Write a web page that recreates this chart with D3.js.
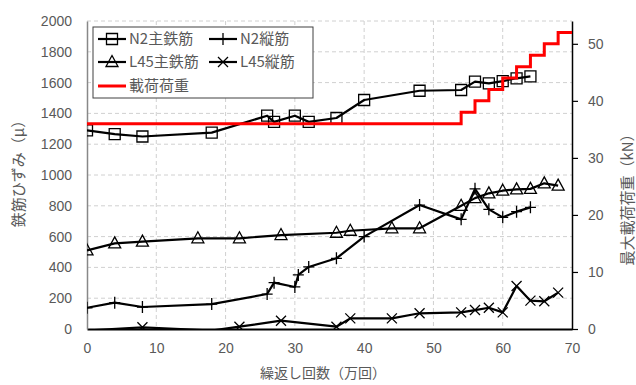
<!DOCTYPE html>
<html>
<head>
<meta charset="utf-8">
<script src="https://cdn.jsdelivr.net/npm/d3@7"></script>
<style>
  html, body { margin: 0; padding: 0; background: #fff; }
  svg { display: block; font-family: "Noto Sans CJK JP", "Noto Sans", sans-serif; }
</style>
</head>
<body>
<svg id="chart" width="636" height="385"></svg>
<script>
// 繰返し回数 (万回) と鉄筋ひずみ (μ)
const n2MainX = [0, 4, 8, 18, 26, 27, 30, 32, 36, 40, 48, 54, 56, 58, 60, 62, 64];
const n2MainY = [1290, 1265, 1250, 1275, 1385, 1345, 1385, 1345, 1370, 1487, 1547, 1552, 1606, 1595, 1610, 1628, 1640];

const n2VertX = [0, 4, 8, 18, 26, 27, 30, 30.5, 32, 36, 40, 48, 54, 56, 58, 60, 62, 64];
const n2VertY = [138, 171, 143, 162, 227, 301, 273, 351, 403, 459, 600, 805, 712, 910, 777, 725, 762, 790];

const l45MainX = [0, 4, 8, 16, 22, 28, 36, 38, 44, 48, 54, 56, 58, 60, 62, 64, 66, 68];
const l45MainY = [510, 556, 567, 589, 589, 610, 625, 638, 654, 654, 800, 850, 881, 898, 907, 910, 946, 931];

const l45VertX = [0, 8, 18, 22, 28, 36, 38, 44, 48, 54, 56, 58, 60, 62, 64, 66, 68];
const l45VertY = [-10, 11, -10, 15, 54, 15, 69, 69, 102, 108, 123, 138, 108, 279, 184, 180, 236];

// 載荷荷重 (kN): 段階的に増加
const loadX = [0, 54, 56, 58, 60, 62, 64, 66, 68, 70];
const loadY = [36, 38, 40, 42, 44, 46, 48, 50, 52, 52];

const xTicks = [0, 10, 20, 30, 40, 50, 60, 70];
const yTicks = [0, 200, 400, 600, 800, 1000, 1200, 1400, 1600, 1800, 2000];
const y2Ticks = [0, 10, 20, 30, 40, 50];

const svg = d3.select("#chart");
const L = 87, R = 572, T = 21, B = 329;

const x = d3.scaleLinear().domain([0, 70]).range([L, R]);
const y = d3.scaleLinear().domain([0, 2000]).range([B, T]);
const y2 = d3.scaleLinear().domain([0, 54]).range([B, T]);

const textColor = "#595959";
const fmt = d3.format("d");

// grid
const grid = svg.append("g");
grid.selectAll("line.h").data(yTicks.slice(1)).join("line")
  .attr("x1", L).attr("x2", R)
  .attr("y1", d => y(d)).attr("y2", d => y(d))
  .attr("stroke", "#d0d0d0").attr("stroke-width", 1).attr("stroke-dasharray", "4,3");
grid.selectAll("line.v").data(xTicks.slice(1, -1)).join("line")
  .attr("y1", T).attr("y2", B)
  .attr("x1", d => x(d)).attr("x2", d => x(d))
  .attr("stroke", "#d0d0d0").attr("stroke-width", 1).attr("stroke-dasharray", "4,3");

// axes
const xAxis = svg.append("g").attr("transform", `translate(0,${B})`)
  .call(d3.axisBottom(x).tickValues(xTicks).tickFormat(fmt).tickSize(0).tickPadding(14));
xAxis.select(".domain").attr("stroke", "#000").attr("stroke-width", 2);
xAxis.selectAll("text").attr("fill", textColor).attr("font-size", 14);

const yAxis = svg.append("g").attr("transform", `translate(${L},0)`)
  .call(d3.axisLeft(y).tickValues(yTicks).tickFormat(fmt).tickSize(0).tickPadding(15));
yAxis.select(".domain").attr("stroke", "#888").attr("stroke-width", 1.5);
yAxis.selectAll("text").attr("fill", textColor).attr("font-size", 14);

const y2Axis = svg.append("g").attr("transform", `translate(${R},0)`)
  .call(d3.axisRight(y2).tickValues(y2Ticks).tickFormat(fmt).tickSize(6).tickSizeOuter(0).tickPadding(10));
y2Axis.select(".domain").attr("stroke", "#000").attr("stroke-width", 1.5);
y2Axis.selectAll(".tick line").attr("stroke", "#000").attr("stroke-width", 1.2);
y2Axis.selectAll("text").attr("fill", textColor).attr("font-size", 14);

// axis titles
svg.append("text").attr("x", 323).attr("y", 378)
  .attr("text-anchor", "middle").attr("fill", textColor).attr("font-size", 14)
  .text("繰返し回数（万回）");
svg.append("text").attr("transform", `translate(24,170) rotate(-90)`)
  .attr("text-anchor", "middle").attr("fill", textColor).attr("font-size", 15)
  .text("鉄筋ひずみ（μ）");
svg.append("text").attr("transform", `translate(633,196) rotate(-90)`)
  .attr("text-anchor", "middle").attr("fill", textColor).attr("font-size", 15)
  .text("最大載荷荷重（kN）");

// plotting area clip
svg.append("clipPath").attr("id", "plotClip").append("rect")
  .attr("x", L).attr("y", T - 3).attr("width", R - L + 3).attr("height", B - T + 3);

const markers = {
  square: "M-5.5,-5.5H5.5V5.5H-5.5Z",
  triangle: "M0,-6.5L6,4.5H-6Z",
  plus: "M-5.5,0H5.5M0,-6V6",
  cross: "M-5,-5L5,5M-5,5L5,-5"
};

const series = [
  { name: "N2主鉄筋", xs: n2MainX, ys: n2MainY, marker: "square" },
  { name: "N2縦筋", xs: n2VertX, ys: n2VertY, marker: "plus" },
  { name: "L45主鉄筋", xs: l45MainX, ys: l45MainY, marker: "triangle" },
  { name: "L45縦筋", xs: l45VertX, ys: l45VertY, marker: "cross" }
];

const plot = svg.append("g").attr("clip-path", "url(#plotClip)");
const line = d3.line().x(d => x(d[0])).y(d => y(d[1]));

series.forEach(s => {
  const pts = s.xs.map((v, i) => [v, s.ys[i]]);
  plot.append("path").datum(pts).attr("d", line)
    .attr("fill", "none").attr("stroke", "#000").attr("stroke-width", 2.2)
    .attr("stroke-linejoin", "round");
  // points below the axis minimum are clipped, so no marker is drawn for them
  plot.selectAll(null).data(pts.filter(p => p[1] >= 0)).join("path")
    .attr("transform", d => `translate(${x(d[0])},${y(d[1])})`)
    .attr("d", markers[s.marker])
    .attr("fill", "none").attr("stroke", "#000").attr("stroke-width", 1.3);
});

// 載荷荷重 (secondary axis)
const loadPts = loadX.map((v, i) => [v, loadY[i]]);
svg.append("path").datum(loadPts)
  .attr("d", d3.line().curve(d3.curveStepAfter).x(d => x(d[0])).y(d => y2(d[1])))
  .attr("fill", "none").attr("stroke", "#ff0000").attr("stroke-width", 3);

// legend
const lg = svg.append("g");
lg.append("rect").attr("x", 93).attr("y", 27).attr("width", 220).attr("height", 71)
  .attr("fill", "#fff").attr("stroke", "#404040").attr("stroke-width", 1);

const legendItems = [
  { s: series[0], cx: 98, cy: 39 },
  { s: series[1], cx: 209, cy: 39 },
  { s: series[2], cx: 98, cy: 62 },
  { s: series[3], cx: 209, cy: 62 }
];
legendItems.forEach(it => {
  lg.append("line").attr("x1", it.cx).attr("x2", it.cx + 28)
    .attr("y1", it.cy).attr("y2", it.cy).attr("stroke", "#000").attr("stroke-width", 2.2);
  lg.append("path").attr("transform", `translate(${it.cx + 14},${it.cy})`)
    .attr("d", markers[it.s.marker]).attr("fill", "none")
    .attr("stroke", "#000").attr("stroke-width", 1.3);
  lg.append("text").attr("x", it.cx + 31).attr("y", it.cy).attr("dy", "0.36em")
    .attr("fill", textColor).attr("font-size", 15).text(it.s.name);
});
lg.append("line").attr("x1", 98).attr("x2", 126).attr("y1", 86).attr("y2", 86)
  .attr("stroke", "#ff0000").attr("stroke-width", 3);
lg.append("text").attr("x", 129).attr("y", 86).attr("dy", "0.36em")
  .attr("fill", textColor).attr("font-size", 15).text("載荷荷重");
</script>
</body>
</html>
